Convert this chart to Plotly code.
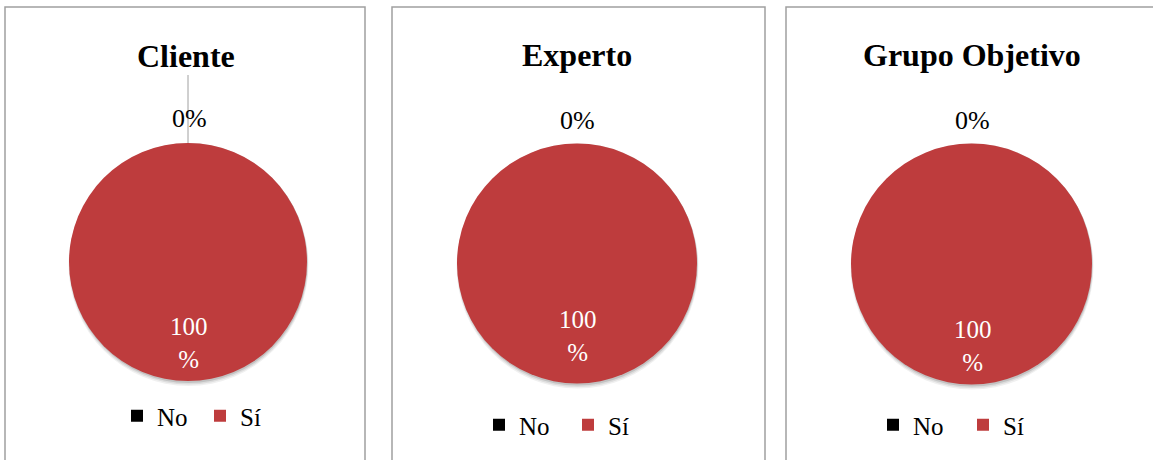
import plotly.graph_objects as go

# ---- data ----
groups = ["Cliente", "Experto", "Grupo Objetivo"]
labels = ["No", "Sí"]
cliente_vals = [0, 100]
experto_vals = [0, 100]
grupo_vals = [0, 100]
series = [cliente_vals, experto_vals, grupo_vals]
colors = ["#000000", "#BE3C3D"]

W, H = 1153, 460
FONT = "Liberation Serif, Times New Roman, serif"


def fx(x):
    return x / W


def fy(y):
    return 1 - y / H


# layout (pixel geometry per panel)
panels = [
    dict(border=(5, 7, 365, 475), pie=(188, 262, 119), title=(186, 56),
         small=(189, 119), big=(189, 343), legend=(117, 416), gap=84, leader=True),
    dict(border=(392, 7, 765, 475), pie=(577, 263.5, 120), title=(577, 55),
         small=(577, 120), big=(578, 336), legend=(479, 425), gap=90, leader=False),
    dict(border=(786, 7, 1165, 475), pie=(971.5, 264, 120.5), title=(972, 55),
         small=(972, 120), big=(973, 346), legend=(873, 425), gap=91, leader=False),
]

fig = go.Figure()
shapes = []
annotations = []
legend_names = ["legend", "legend2", "legend3"]

for i, (g, vals, p) in enumerate(zip(groups, series, panels)):
    cx, cy, r = p["pie"]
    # zero-width suffix keeps each panel's legend entries separate
    trace_labels = [lab + "\u200b" * i for lab in labels]
    fig.add_trace(go.Pie(
        labels=trace_labels, values=vals, sort=False, direction="clockwise",
        rotation=0, textinfo="none", hoverinfo="skip",
        marker=dict(colors=colors, line=dict(width=0)),
        domain=dict(x=[fx(cx - r), fx(cx + r)], y=[fy(cy + r), fy(cy - r)]),
        legend=legend_names[i], showlegend=True,
    ))
    # soft shadow under the pie
    for off, extra, op in [(4, 1, 0.06), (3, 0.5, 0.08), (2, 0, 0.12)]:
        shapes.append(dict(type="circle", xref="paper", yref="paper", layer="below",
                           x0=fx(cx - r - extra + 0.5), x1=fx(cx + r + extra + 0.5),
                           y0=fy(cy + r + extra + off), y1=fy(cy - r - extra + off - 2),
                           fillcolor="rgba(0,0,0,%s)" % op, line=dict(width=0)))
    # panel border
    x0, y0, x1, y1 = p["border"]
    shapes.append(dict(type="rect", xref="paper", yref="paper", layer="below",
                       x0=fx(x0), x1=fx(x1), y0=fy(y1), y1=fy(y0),
                       line=dict(color="#A0A0A0", width=1.5), fillcolor="rgba(0,0,0,0)"))
    if p["leader"]:
        shapes.append(dict(type="line", xref="paper", yref="paper",
                           x0=fx(cx), x1=fx(cx), y0=fy(cy - r), y1=fy(75),
                           line=dict(color="#A0A0A0", width=1)))
    # title
    tx, ty = p["title"]
    annotations.append(dict(text="<b>%s</b>" % g, x=fx(tx), y=fy(ty), xref="paper", yref="paper",
                            showarrow=False, xanchor="center", yanchor="middle",
                            font=dict(family=FONT, size=32, color="#000000")))
    total = sum(vals)
    pcts = [round(100 * v / total) for v in vals]
    sx, sy = p["small"]
    annotations.append(dict(text="%d%%" % pcts[0], x=fx(sx), y=fy(sy), xref="paper", yref="paper",
                            showarrow=False, xanchor="center", yanchor="middle",
                            font=dict(family=FONT, size=26, color="#000000")))
    bx, by = p["big"]
    annotations.append(dict(text="%d<br>%%" % pcts[1], x=fx(bx), y=fy(by), xref="paper", yref="paper",
                            showarrow=False, xanchor="center", yanchor="middle",
                            font=dict(family=FONT, size=25, color="#FFFFFF")))

layout_legends = {}
for i, p in enumerate(panels):
    lx, ly = p["legend"]
    layout_legends[legend_names[i]] = dict(
        orientation="h", x=fx(lx), y=fy(ly), xanchor="left", yanchor="middle",
        xref="paper", yref="paper",
        font=dict(family=FONT, size=25, color="#000000"),
        bgcolor="rgba(0,0,0,0)", itemclick=False, itemdoubleclick=False,
        entrywidth=p["gap"] - 46, entrywidthmode="pixels",
        traceorder="normal",
    )

fig.update_layout(
    width=W, height=H, margin=dict(l=0, r=0, t=0, b=0),
    paper_bgcolor="#FFFFFF", plot_bgcolor="#FFFFFF",
    shapes=shapes, annotations=annotations, hovermode=False,
    **layout_legends,
)

fig.write_html("out.html", config={"displayModeBar": False, "staticPlot": True},
               post_script="document.body.style.margin='0px';document.body.style.padding='0px';")
